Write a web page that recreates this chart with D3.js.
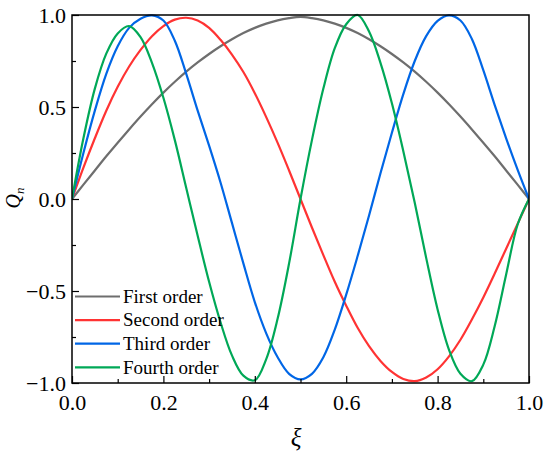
<!DOCTYPE html>
<html>
<head>
<meta charset="utf-8">
<script src="https://cdn.jsdelivr.net/npm/d3@7"></script>
<style>
  body { margin: 0; background: #fff; }
  svg { display: block; }
</style>
</head>
<body>
<div id="chart"></div>
<script>
// Sampled positions along the span
const xi = d3.range(41).map(i => i / 40);

// Mode shape values (step 0.025)
const firstOrder = [0, 0.078, 0.155, 0.232, 0.306, 0.378, 0.448, 0.515, 0.578, 0.637, 0.692,
  0.742, 0.788, 0.83, 0.868, 0.902, 0.93, 0.953, 0.971, 0.983, 0.99,
  0.983, 0.971, 0.953, 0.93, 0.902, 0.868, 0.83, 0.788, 0.742, 0.692,
  0.637, 0.578, 0.515, 0.448, 0.378, 0.306, 0.232, 0.155, 0.078, 0];
const secondOrder = [0, 0.17, 0.33, 0.48, 0.61, 0.72, 0.81, 0.885, 0.94, 0.975, 0.985,
  0.97, 0.93, 0.865, 0.785, 0.69, 0.575, 0.445, 0.305, 0.155, 0,
  -0.155, -0.305, -0.45, -0.58, -0.70, -0.80, -0.88, -0.94, -0.978, -0.99,
  -0.97, -0.925, -0.855, -0.765, -0.655, -0.535, -0.405, -0.27, -0.135, 0];
const thirdOrder = [0, 0.25, 0.48, 0.68, 0.83, 0.93, 0.98, 0.998, 0.97, 0.86, 0.68,
  0.48, 0.29, 0.09, -0.13, -0.35, -0.56, -0.73, -0.86, -0.95, -0.98,
  -0.95, -0.86, -0.71, -0.52, -0.31, -0.09, 0.14, 0.36, 0.57, 0.75,
  0.885, 0.968, 0.998, 0.97, 0.87, 0.70, 0.51, 0.33, 0.16, 0];
const fourthOrder = [0, 0.33, 0.6, 0.79, 0.9, 0.94, 0.88, 0.74, 0.55, 0.32, 0.06,
  -0.2, -0.45, -0.67, -0.85, -0.96, -0.985, -0.87, -0.65, -0.35, 0,
  0.32, 0.6, 0.82, 0.95, 1.0, 0.91, 0.74, 0.52, 0.26, -0.02,
  -0.32, -0.6, -0.82, -0.95, -0.99, -0.9, -0.69, -0.41, -0.14, 0];

const seriesNames = ["First order", "Second order", "Third order", "Fourth order"];
const seriesColors = ["#6e6e6e", "#ff3333", "#0066e6", "#00a857"];
const seriesValues = [firstOrder, secondOrder, thirdOrder, fourthOrder];

const xTicks = [0, 0.2, 0.4, 0.6, 0.8, 1.0];
const yTicks = [-1, -0.5, 0, 0.5, 1];

const width = 550, height = 460;
const margin = { top: 15, right: 21, bottom: 77, left: 72 };
const serif = '"Liberation Serif"';

const x = d3.scaleLinear().domain([0, 1]).range([margin.left, width - margin.right]);
const y = d3.scaleLinear().domain([-1, 1]).range([height - margin.bottom, margin.top]);

const svg = d3.select("#chart").append("svg")
  .attr("width", width)
  .attr("height", height)
  .attr("viewBox", [0, 0, width, height]);

// Curves
const line = d3.line()
  .x(d => x(d[0]))
  .y(d => y(d[1]))
  .curve(d3.curveCatmullRom.alpha(0.5));

svg.append("defs").append("clipPath").attr("id", "clip")
  .append("rect")
  .attr("x", margin.left).attr("y", margin.top - 2)
  .attr("width", x(1) - x(0)).attr("height", y(-1) - y(1) + 4);

svg.append("g").attr("clip-path", "url(#clip)")
  .selectAll("path")
  .data(seriesValues)
  .join("path")
  .attr("fill", "none")
  .attr("stroke", (d, i) => seriesColors[i])
  .attr("stroke-width", 2.2)
  .attr("d", d => line(d.map((v, i) => [xi[i], v])));

// Frame
svg.append("rect")
  .attr("x", x(0)).attr("y", y(1))
  .attr("width", x(1) - x(0)).attr("height", y(-1) - y(1))
  .attr("fill", "none").attr("stroke", "#000").attr("stroke-width", 1.5);

// Axes with inward ticks
const fmt = d3.format(".1f");
const isMajor = (ticks, d) => ticks.some(t => Math.abs(t - d) < 1e-6);

const xAxis = svg.append("g")
  .attr("transform", `translate(0,${y(-1)})`)
  .call(d3.axisBottom(x).tickValues(d3.range(0, 1.0001, 0.1)).tickSize(-4).tickFormat(""))
  .call(g => g.select(".domain").remove());
xAxis.selectAll(".tick line")
  .attr("y2", d => isMajor(xTicks, d) ? -7 : -4)
  .attr("stroke-width", 1.2);
xAxis.selectAll(".tick")
  .filter(d => isMajor(xTicks, d))
  .append("text")
  .attr("y", 27)
  .attr("fill", "#000")
  .attr("text-anchor", "middle")
  .style("font-family", serif)
  .style("font-size", "22px")
  .text(d => fmt(d));

const yAxis = svg.append("g")
  .attr("transform", `translate(${x(0)},0)`)
  .call(d3.axisLeft(y).tickValues(d3.range(-1, 1.0001, 0.25)).tickSize(-4).tickFormat(""))
  .call(g => g.select(".domain").remove());
yAxis.selectAll(".tick line")
  .attr("x2", d => isMajor(yTicks, d) ? 7 : 4)
  .attr("stroke-width", 1.2);
yAxis.selectAll(".tick")
  .filter(d => isMajor(yTicks, d))
  .append("text")
  .attr("x", -6)
  .attr("dy", "0.33em")
  .attr("fill", "#000")
  .attr("text-anchor", "end")
  .style("font-family", serif)
  .style("font-size", "22px")
  .text(d => fmt(d));

// Axis titles
svg.append("text")
  .attr("x", 296)
  .attr("y", 446)
  .attr("text-anchor", "middle")
  .style("font-family", serif)
  .style("font-size", "25px")
  .style("font-style", "italic")
  .text("ξ");

const yTitle = svg.append("text")
  .attr("transform", `translate(20,198) rotate(-90)`)
  .attr("text-anchor", "middle")
  .style("font-family", serif)
  .style("font-size", "20px")
  .style("font-style", "italic");
yTitle.append("tspan").text("Q");
yTitle.append("tspan").style("font-size", "13px").attr("dy", 4).text("n");

// Legend
const legend = svg.append("g")
  .selectAll("g")
  .data(seriesNames)
  .join("g")
  .attr("transform", (d, i) => `translate(75,${296.5 + i * 23.6})`);
legend.append("line")
  .attr("x1", 0).attr("x2", 45)
  .attr("stroke", (d, i) => seriesColors[i])
  .attr("stroke-width", 2.2);
legend.append("text")
  .attr("x", 48)
  .attr("dy", "0.33em")
  .style("font-family", serif)
  .style("font-size", "19px")
  .text(d => d);
</script>
</body>
</html>
